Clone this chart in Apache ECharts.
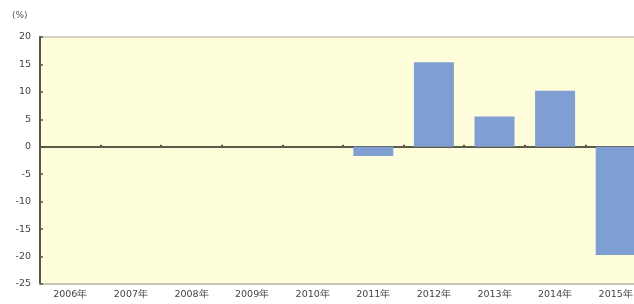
<!DOCTYPE html>
<html><head><meta charset="utf-8">
<script src="https://cdn.jsdelivr.net/npm/echarts@6/dist/echarts.min.js"></script>
<style>html,body{margin:0;padding:0;background:#fff}#c{width:634px;height:304px}</style>
</head><body><div id="c"></div>
<script>
const categories = ['2006年','2007年','2008年','2009年','2010年','2011年','2012年','2013年','2014年','2015年'];
const values = [0, 0, 0, 0, 0, -1.7, 15.4, 5.5, 10.2, -19.7];
const yTicks = [-25, -20, -15, -10, -5, 0, 5, 10, 15, 20];
const unitLabel = '(%)';

const chart = echarts.init(document.getElementById('c'), null, {renderer: 'canvas'});
chart.setOption({
  animation: false,
  backgroundColor: '#ffffff',
  grid: {left: 40, right: -12, top: 37, bottom: 20, outerBoundsMode: 'none', containLabel: false, show: true, backgroundColor: '#fefedd', borderColor: '#c4c4b4', borderWidth: 1.5},
  graphic: [{type: 'text', left: 12, top: 11, style: {text: unitLabel, fontSize: 9, fill: '#555', fontFamily: 'DejaVu Sans'}}],
  xAxis: [{
    type: 'category', data: categories, position: 'bottom',
    axisLine: {onZero: false, lineStyle: {color: '#c4c4b4', width: 1.5}},
    axisTick: {show: false},
    axisLabel: {fontSize: 9.5, color: '#444', margin: 6, fontFamily: 'DejaVu Sans', interval: 0}
  }, {
    type: 'category', data: categories, position: 'bottom',
    axisLine: {onZero: true, lineStyle: {color: '#5a5a48', width: 2}},
    axisTick: {show: true, length: 2, inside: true, lineStyle: {color: '#5a5a48', width: 2}},
    axisLabel: {show: false}
  }],
  yAxis: {
    type: 'value', min: yTicks[0], max: yTicks[yTicks.length - 1], interval: 5,
    axisLine: {show: true, lineStyle: {color: '#55554a', width: 2}},
    axisTick: {show: true, inside: true, length: 3, lineStyle: {color: '#55554a', width: 1.5}},
    splitLine: {show: false},
    axisLabel: {fontSize: 9.5, color: '#444', margin: 9, fontFamily: 'DejaVu Sans'}
  },
  series: [{
    type: 'bar', data: values, barWidth: 40, xAxisIndex: 0,
    itemStyle: {color: '#7f9ed1'}
  }]
});
</script></body></html>
